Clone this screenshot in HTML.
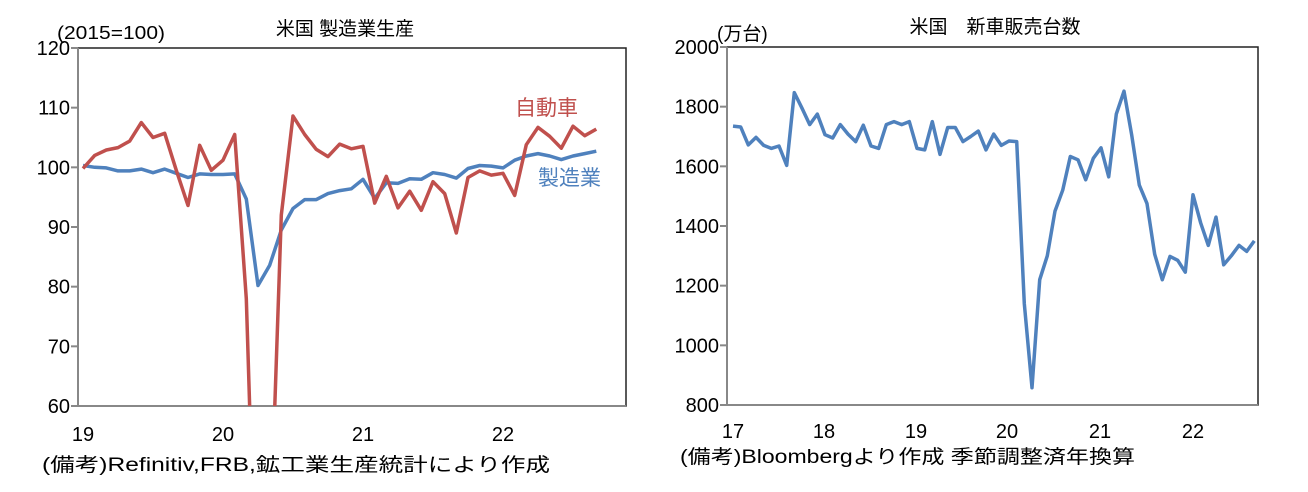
<!DOCTYPE html>
<html><head><meta charset="utf-8"><style>
html,body{margin:0;padding:0;background:#fff;width:1308px;height:492px;overflow:hidden;}
svg{display:block;}
svg text{font-family:"Liberation Sans","Noto Sans CJK JP",sans-serif;fill:#000;}
</style></head><body>
<svg id="s" width="1308" height="492" xmlns="http://www.w3.org/2000/svg">
<text x="345" y="35" font-size="19" text-anchor="middle">米国 製造業生産</text>
<text x="57" y="39" font-size="18" textLength="108" lengthAdjust="spacingAndGlyphs">(2015=100)</text>
<rect x="78" y="48" width="548" height="358" fill="none" stroke="#222" stroke-width="1.5"/>
<line x1="78" y1="48" x2="78" y2="406" stroke="#888" stroke-width="2"/>
<line x1="78" y1="406" x2="626" y2="406" stroke="#888" stroke-width="2"/>
<g id="lt" font-size="20" text-anchor="end"></g>
<g font-size="20" text-anchor="middle">
<text x="83" y="441">19</text><text x="223" y="441">20</text><text x="363" y="441">21</text><text x="503" y="441">22</text></g>
<text x="42" y="471" font-size="19" textLength="508" lengthAdjust="spacingAndGlyphs">(備考)Refinitiv,FRB,鉱工業生産統計により作成</text>
<clipPath id="c1"><rect x="78" y="48" width="548" height="358"/></clipPath>
<g clip-path="url(#c1)">
<polyline id="mfg" fill="none" stroke="#4f81bd" stroke-width="3.5" stroke-linejoin="round"/>
<polyline id="auto" fill="none" stroke="#c0504d" stroke-width="3.5" stroke-linejoin="round"/>
</g>
<text x="515" y="115" font-size="21" style="fill:#c0504d">自動車</text>
<text x="538" y="185" font-size="21" style="fill:#4f81bd">製造業</text>
<text x="995" y="33" font-size="19" text-anchor="middle">米国　新車販売台数</text>
<text x="717" y="40" font-size="19">(万台)</text>
<rect x="727" y="47" width="531" height="358" fill="none" stroke="#222" stroke-width="1.5"/>
<line x1="727" y1="47" x2="727" y2="405" stroke="#888" stroke-width="2"/>
<line x1="727" y1="405" x2="1258" y2="405" stroke="#888" stroke-width="2"/>
<g id="rt" font-size="20" text-anchor="end"></g>
<g font-size="20" text-anchor="middle">
<text x="733" y="438">17</text><text x="824" y="438">18</text><text x="916" y="438">19</text><text x="1007" y="438">20</text><text x="1100" y="438">21</text><text x="1193" y="438">22</text></g>
<text x="680" y="463" font-size="19" textLength="455" lengthAdjust="spacingAndGlyphs">(備考)Bloombergより作成 季節調整済年換算</text>
<polyline id="sales" fill="none" stroke="#4f81bd" stroke-width="3.5" stroke-linejoin="round"/>
</svg>
<script>
var NS="http://www.w3.org/2000/svg";
function tick(g,x1,x2,y,label,tx){var l=document.createElementNS(NS,"line");l.setAttribute("x1",x1);l.setAttribute("x2",x2);l.setAttribute("y1",y);l.setAttribute("y2",y);l.setAttribute("stroke","#888");l.setAttribute("stroke-width","2");document.getElementById("s").appendChild(l);var t=document.createElementNS(NS,"text");t.setAttribute("x",tx);t.setAttribute("y",y+7);t.textContent=label;document.getElementById(g).appendChild(t);}
for(var i=0;i<=6;i++){var v=120-10*i;tick("lt",71,78,48+i*(358/6),v,70);}
for(var i=0;i<=6;i++){var v=2000-200*i;tick("rt",720,727,47+i*(358/6),v,719);}
var mfg=[100.3,100.0,99.9,99.4,99.4,99.7,99.1,99.7,99.0,98.3,98.9,98.8,
98.8,98.9,94.7,80.2,83.6,89.5,93.1,94.6,94.6,95.6,96.1,96.4,
98.0,94.8,97.4,97.3,98.1,98.0,99.1,98.8,98.2,99.8,100.3,100.2,
99.9,101.2,101.9,102.3,101.9,101.3,101.9,102.3,102.7];
var auto=[99.8,102.0,102.9,103.3,104.4,107.5,105.0,105.7,99.5,93.6,103.7,99.5,
101.2,105.5,78,15,35,92,108.6,105.5,103.0,101.8,103.9,103.1,
103.5,94.0,98.5,93.2,96.0,92.8,97.6,95.6,89.0,98.3,99.4,98.7,
99.0,95.3,103.8,106.7,105.2,103.2,106.9,105.3,106.4];
var sales=[1735,1732,1672,1697,1670,1660,1668,1603,1847,1795,1740,1775,
1706,1695,1740,1708,1683,1738,1668,1660,1740,1750,1740,1750,
1660,1655,1750,1640,1730,1730,1683,1700,1718,1655,1708,1670,
1685,1683,1140,858,1220,1300,1450,1520,1633,1622,1555,1627,
1662,1565,1775,1852,1705,1537,1475,1305,1220,1298,1285,1245,
1505,1410,1335,1430,1270,1300,1335,1315,1350];
function pts(d,x0,dx,y0,v0,sc){return d.map(function(v,i){return (x0+i*dx).toFixed(1)+","+(y0+(v0-v)*sc).toFixed(1)}).join(" ");}
document.getElementById("mfg").setAttribute("points",pts(mfg,83,140/12,48,120,358/60));
document.getElementById("auto").setAttribute("points",pts(auto,83,140/12,48,120,358/60));
document.getElementById("sales").setAttribute("points",pts(sales,733,92/12,47,2000,358/1200));
</script>
</body></html>
